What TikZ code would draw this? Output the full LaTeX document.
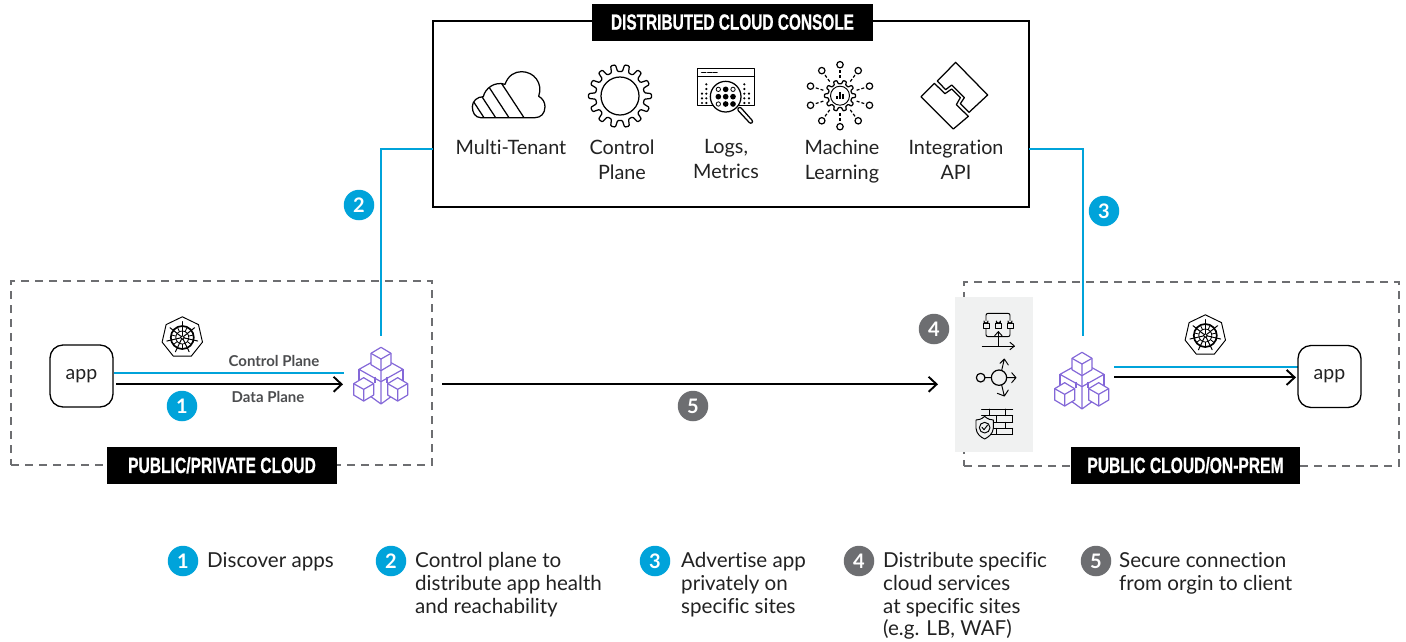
\documentclass[tikz,border=0pt]{standalone}
\usepackage{fontspec}
\setmainfont{Lato}[Ligatures=NoCommon]
\newfontfamily\headfont{Liberation Sans Bold}[FakeBold=1]
\usetikzlibrary{arrows.meta}
\definecolor{fblue}{HTML}{00A3DA}
\definecolor{fgray}{HTML}{6D6E71}
\definecolor{fpanel}{HTML}{F0F1F1}
\definecolor{fviolet}{HTML}{8468D8}
\definecolor{ftext}{HTML}{222222}
\tikzset{
  bluewire/.style={draw=fblue,line width=1.9pt},
  blackwire/.style={draw=black,line width=1.9pt,-{Straight Barb[length=8pt,width=15pt,line width=1.9pt]}},
  cloudbox/.style={draw=fgray,line width=1.7pt,dash pattern=on 8pt off 6pt},
  appbox/.style={draw=black,line width=1.3pt,rounded corners=13pt,fill=white,minimum width=63pt,minimum height=62pt,inner sep=0pt,font=\fontsize{19.5}{23}\selectfont,text=ftext},
  headbox/.style={fill=black,text=white,inner sep=0pt,font=\headfont\fontsize{22}{24}\selectfont},
  badgeblue/.style={circle,fill=fblue,text=white,minimum size=30.5pt,inner sep=0pt,font=\bfseries\fontsize{20}{22}\selectfont},
  badgegray/.style={circle,fill=fgray,text=white,minimum size=30.5pt,inner sep=0pt,font=\bfseries\fontsize{20}{22}\selectfont},
  icontext/.style={align=center,inner sep=0pt,text=ftext,font=\fontsize{19.8}{25}\selectfont},
  legendtext/.style={align=left,anchor=north west,inner sep=0pt,text=ftext,font=\fontsize{20.6}{22.7}\selectfont},
  planetext/.style={inner sep=0pt,text=fgray!70!black,font=\bfseries\fontsize{15}{17}\selectfont},
  iconline/.style={draw=black,line width=1.25pt,line join=round,line cap=round},
  thinline/.style={draw=black,line width=0.95pt,line join=round,line cap=round},
  violet/.style={draw=fviolet,line width=1.2pt,line join=round},
  pics/isocube/.style={code={
    \draw[violet,fill=white] (0,-35) -- (30,-17) -- (30,17) -- (0,35) -- (-30,17) -- (-30,-17) -- cycle;
    \draw[violet] (-30,-17) -- (0,0) -- (30,-17) (0,0) -- (0,35);
  }},
  pics/cubecluster/.style={code={
    \begin{scope}[scale=1/3]
    \draw[violet] (-30,-52) -- (-66,-32) -- (0,5) -- (66,-32) -- (30,-52);
    \draw[violet] (-66,-32) -- (-66,5) (66,-32) -- (66,5);
    \draw[violet] (0,-28) -- (0,72) (-30,50) -- (0,72) -- (30,50);
    \draw[violet] (-18,-10) -- (-18,10) (18,-10) -- (18,10);
    \pic[transform shape] at (0,-63) {isocube};
    \pic[transform shape] at (-52,28) {isocube};
    \pic[transform shape] at (50,28) {isocube};
    \end{scope}
  }},
  pics/kube/.style={code={
    \draw[thinline,fill=white] (-90:20.7) \foreach \a in {1,...,6} { -- ({-90+\a*360/7}:20.7) } -- cycle;
    \draw[black,line width=1.7pt] (0,0) circle (11.5);
    \draw[black,line width=0.8pt] (0,0) circle (6.5);
    \foreach \a in {0,...,6} {
      \draw[black,line width=1pt,line cap=round] ({-90+\a*360/7}:2.2) -- ({-90+\a*360/7}:15.8);
      \draw[black,line width=.8pt] ({-90+180/7+\a*360/7}:6.5) -- ({-90+180/7+\a*360/7}:11);
    }
    \draw[black,line width=.9pt,fill=white] (0,0) circle (1.9);
  }},
}
\newcommand{\gearloop}[3]{% teeth, root, tip
  ({-0.29*360/#1}:#2) \foreach \i in {0,...,\numexpr#1-1\relax} {
    -- ({(\i-0.29)*360/#1}:#2) -- ({(\i-0.17)*360/#1}:#3) -- ({(\i+0.17)*360/#1}:#3) -- ({(\i+0.29)*360/#1}:#2)
  } -- cycle}
\begin{document}
\begin{tikzpicture}[x=1pt,y=-1pt]
\useasboundingbox (0,0) rectangle (1406,641);

% dashed cloud regions
\node[cloudbox,minimum width=421pt,minimum height=184pt,inner sep=0pt] (privatecloud) at (221.5,373) {};
\node[cloudbox,minimum width=435pt,minimum height=184pt,inner sep=0pt] (premcloud) at (1181.5,374) {};
\node[fill=fpanel,minimum width=78pt,minimum height=155pt,inner sep=0pt] (servicepanel) at (994,374.5) {};

% console
\node[draw=black,line width=1.6pt,minimum width=596pt,minimum height=186pt,inner sep=0pt,fill=white] (console) at (731,114) {};
\node[headbox,minimum width=281pt,minimum height=37pt] (consolehead) at (732.5,22.5) {\raisebox{1pt}{\scalebox{0.70}[1]{DISTRIBUTED CLOUD CONSOLE}}};

% named wire ends
\coordinate (conL) at (433,149);
\coordinate (kneeL) at (381,149);
\coordinate (cubesLtop) at (381,336);
\coordinate (conR) at (1029,149);
\coordinate (kneeR) at (1083,149);
\coordinate (cubesRtop) at (1083,336);
\coordinate (ctlA) at (114,372.7);
\coordinate (ctlB) at (344,372.7);
\coordinate (datA) at (116,384.3);
\coordinate (datB) at (343,384.3);
\coordinate (wanA) at (442,384.3);
\coordinate (wanB) at (938,384.3);
\coordinate (ctlC) at (1114,367.4);
\coordinate (ctlD) at (1299,367.4);
\coordinate (datC) at (1114,377.4);
\coordinate (datD) at (1296,377.4);

% connectors
\draw[bluewire] (conL) -- (kneeL) -- (cubesLtop);
\draw[bluewire] (conR) -- (kneeR) -- (cubesRtop);
\draw[bluewire] (ctlA) -- (ctlB);
\draw[blackwire] (datA) -- (datB);
\draw[blackwire] (wanA) -- (wanB);
\draw[bluewire] (ctlC) -- (ctlD);
\draw[blackwire] (datC) -- (datD);

% apps
\node[appbox] (appL) at (81.5,376) {app};
\node[appbox] (appR) at (1329.5,376.5) {app};

% region labels
\node[headbox,minimum width=230pt,minimum height=37pt] (privatehead) at (222,465.5) {\raisebox{1pt}{\scalebox{0.71}[1]{PUBLIC/PRIVATE CLOUD}}};
\node[headbox,minimum width=229pt,minimum height=37pt] (premhead) at (1185.5,465.5) {\raisebox{1pt}{\scalebox{0.71}[1]{PUBLIC CLOUD/ON-PREM}}};

% plane labels
\node[planetext] (lblctl) at (274,361) {Control Plane};
\node[planetext] (lbldat) at (268,396.5) {Data Plane};

% cube clusters, kubernetes wheels
\pic (cubesL) at (381,380) {cubecluster};
\pic (cubesR) at (1082,385) {cubecluster};
\pic (kubeL) at (182.3,337.5) {kube};
\pic (kubeR) at (1205.3,335.5) {kube};

% console icons
% cloud
\begin{scope}[shift={(460,55)},scale=1/3]
  \def\cloudpath{(62,188) .. controls (45,188) and (37,172) .. (37,155) .. controls (37,138) and (52,125) .. (70,125) .. controls (75,100) and (105,78) .. (135,88) .. controls (145,60) and (165,50) .. (185,50) .. controls (222,50) and (250,85) .. (236,124) .. controls (248,130) and (255,142) .. (255,155) .. controls (255,175) and (243,188) .. (225,188) -- cycle}
  \begin{scope}
    \clip \cloudpath;
    \foreach \s in {-35,0,40,85} \draw[iconline] ({\s+10},40) -- ({\s+10+97},188);
  \end{scope}
  \draw[iconline] \cloudpath;
\end{scope}
% gear
\begin{scope}[shift={(620,96)}]
  \draw[iconline,rounded corners=1pt] \gearloop{14}{24.5}{31.5};
  \draw[iconline] (0,0) circle (19);
\end{scope}
% logs
\begin{scope}[shift={(685,55)},scale=1/3]
  \draw[iconline,line width=1.5pt] (38,40) rectangle (208,152);
  \draw[iconline,line width=1.5pt] (38,65) -- (208,65);
  \draw[iconline,line width=1.5pt] (50,52) -- (62,52) (68,52) -- (80,52) (85,52) -- (96,52);
  \foreach \y in {88,102,116,130,144} {
    \fill (64,\y) circle (3.6);
    \fill (178,\y) circle (3.6);
  }
  \foreach \y in {116,130,144} {
    \fill (51,\y) circle (3.6);
    \fill (192,\y) circle (3.6);
  }
  \draw[iconline,rounded corners=2pt,fill=white] (156,163) -- (197,207) -- (205,200) -- (165,155) -- cycle;
  \draw[iconline,fill=white] (122,125) circle (46);
  \foreach \x/\y/\k in {100/103/0,122/103/1,144/103/0,100/125/1,122/125/1,144/125/1,100/147/0,122/147/1,144/147/1} {
    \ifnum\k=1 \fill (\x,\y) circle (8.5); \else \draw[black,line width=.8pt] (\x,\y) circle (6.5); \fi
  }
\end{scope}
% machine learning
\begin{scope}[shift={(840,95.7)}]
  \draw[iconline,rounded corners=.6pt] \gearloop{10}{12}{15.5};
  \draw[thinline] (0,0) circle (9.5);
  \draw[black,line width=1.1pt] (-3,3.5) -- (-3,0) (0,3.5) -- (0,-4) (3,3.5) -- (3,-1.5);
  \foreach \a in {90,126,...,414} {
    \draw[black,line width=1.2pt,dash pattern=on 3pt off 2pt] (\a:17.5) -- (\a:27);
    \draw[black,line width=1.2pt,fill=white] (\a:31) circle (3.2);
  }
\end{scope}
% integration API
\begin{scope}[shift={(685,55)},scale=1/3]
  \draw[iconline] (812,22) -- (908,120) -- (852,172) -- (826,146) -- (838,128) -- (800,90) -- (782,104) -- (757,78) -- cycle;
  \draw[iconline] (708,125) -- (748,85) -- (780,116) -- (800,102) -- (826,128) -- (814,149) -- (850,184) -- (805,222) -- cycle;
\end{scope}

% console captions
\node[icontext] (capA) at (511,147.5) {Multi-Tenant};
\node[icontext,anchor=north] (capB) at (622,139.5) {Control\\Plane};
\node[icontext,anchor=north] (capC) at (726,139.5) {Logs,\\Metrics};
\node[icontext,anchor=north] (capD) at (842,139.5) {Machine\\Learning};
\node[icontext,anchor=north] (capE) at (956,139.5) {Integration\\API};

% service icons in panel
\begin{scope}[shift={(950,295)},scale=1/3]
  % locks
  \draw[thinline,rounded corners=2pt] (108,76) -- (108,55) -- (180,55) -- (180,76);
  \draw[thinline,rounded corners=2pt] (108,100) -- (108,125) -- (180,125) -- (180,100);
  \foreach \x in {108,145,180} {
    \draw[thinline,fill=fpanel] (\x-9,84) rectangle (\x+9,100);
    \draw[thinline] (\x-6,84) -- (\x-6,78) arc (180:0:6) -- (\x+6,84);
  }
  \draw[thinline] (145,153) -- (145,110);
  \draw[thinline] (134,122) -- (145,110) -- (156,122);
  \draw[thinline] (97,153) -- (193,153);
  \draw[thinline] (180,142) -- (193,153) -- (180,164);
  % router
  \draw[thinline,line width=1.2pt] (92,248) circle (13);
  \draw[thinline,line width=1.2pt] (147,248) circle (23);
  \draw[thinline] (105,248) -- (124,248) (170,248) -- (198,248) (185,233) -- (198,248) -- (185,263);
  \draw[thinline] (155,226) -- (163,192) (150,205) -- (163,192) (175,210) -- (163,192);
  \draw[thinline] (155,270) -- (163,303) (142,295) -- (163,303) (175,285) -- (163,303);
  % firewall
  \foreach \y in {342,362,382,400,418} \draw[thinline] (95,\y) -- (188,\y);
  \draw[thinline] (118,342) -- (118,362) (165,342) -- (165,362) (140,362) -- (140,382) (188,362) -- (188,382) (165,382) -- (165,400) (140,400) -- (140,418) (188,400) -- (188,418);
  \draw[thinline,fill=fpanel] (104,364) .. controls (115,374) and (122,374) .. (130,375) -- (130,400) .. controls (128,418) and (115,426) .. (104,432) .. controls (92,426) and (80,418) .. (78,400) -- (78,375) .. controls (86,374) and (93,374) .. (104,364) -- cycle;
  \draw[thinline] (104,398) circle (16);
  \draw[thinline] (96,397) -- (102,404) -- (113,390);
\end{scope}

% badges in diagram
\node[badgeblue] (b1) at (182,406) {1};
\node[badgeblue] (b2) at (359,205) {2};
\node[badgeblue] (b3) at (1104,211) {3};
\node[badgegray] (b4) at (934,329) {4};
\node[badgegray] (b5) at (693,406) {5};

% legend
\node[badgeblue] (l1) at (183,561) {1};
\node[badgeblue] (l2) at (391,561) {2};
\node[badgeblue] (l3) at (655,561) {3};
\node[badgegray] (l4) at (859,561) {4};
\node[badgegray] (l5) at (1096,561) {5};
\node[legendtext] (t1) at (207,552.5) {Discover apps};
\node[legendtext] (t2) at (415,552.5) {Control plane to\\distribute app health\\and reachability};
\node[legendtext] (t3) at (681,552.5) {Advertise app\\privately on\\specific sites};
\node[legendtext] (t4) at (883,552.5) {Distribute specific\\cloud services\\at specific sites\\(e.g. LB, WAF)};
\node[legendtext] (t5) at (1119,552.5) {Secure connection\\from orgin to client};
\end{tikzpicture}
\end{document}
